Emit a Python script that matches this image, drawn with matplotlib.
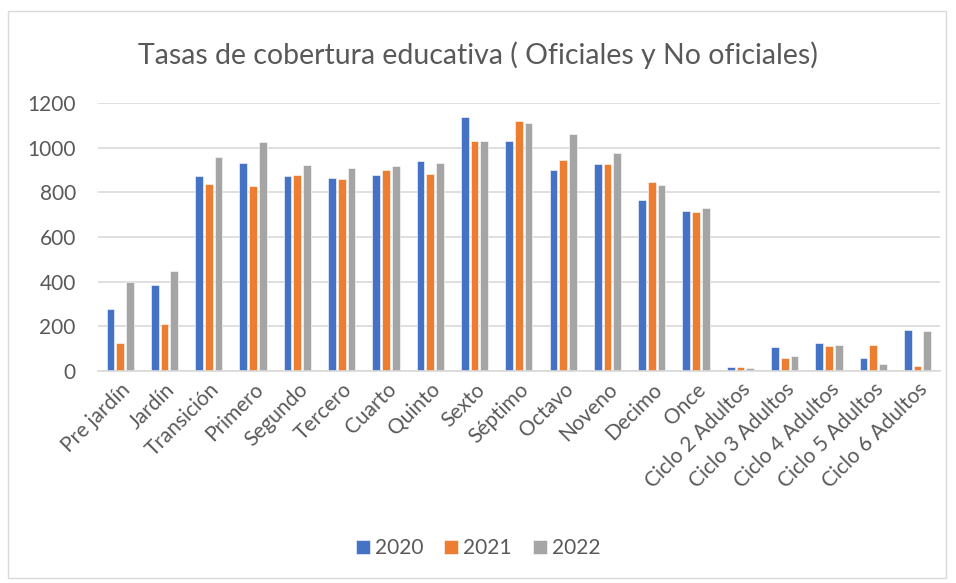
import numpy as np
import matplotlib
matplotlib.use('Agg')
import matplotlib.pyplot as plt
from matplotlib.patches import Rectangle

# datos
grados = ['Pre jardín', 'Jardín', 'Transición', 'Primero', 'Segundo', 'Tercero',
          'Cuarto', 'Quinto', 'Sexto', 'Séptimo', 'Octavo', 'Noveno', 'Decimo',
          'Once', 'Ciclo 2 Adultos', 'Ciclo 3 Adultos', 'Ciclo 4 Adultos',
          'Ciclo 5 Adultos', 'Ciclo 6 Adultos']
v2020 = [279, 384, 872, 932, 872, 866, 876, 942, 1136, 1032, 902, 926, 767,
         716, 18, 108, 126, 58, 184]
v2021 = [127, 211, 836, 830, 879, 858, 900, 881, 1029, 1118, 945, 926, 848,
         712, 18, 60, 111, 117, 22]
v2022 = [400, 449, 959, 1025, 924, 908, 917, 930, 1031, 1112, 1061, 978, 834,
         730, 13, 69, 117, 33, 181]
anios = ['2020', '2021', '2022']
colores = ['#4472C4', '#ED7D31', '#A5A5A5']

plt.rcParams['font.family'] = ['Lato', 'DejaVu Sans']

fig = plt.figure(figsize=(9.56, 5.83), dpi=100)
ax = fig.add_axes([0.1025, 0.3636, 0.8805, 0.4597])

x = np.arange(len(grados))
ancho = 0.175
paso = 0.22
for i, (serie, c, a) in enumerate(zip([v2020, v2021, v2022], colores, anios)):
    ax.bar(x + (i - 1) * paso, serie, width=ancho, color=c, label=a,
           edgecolor='white', linewidth=0.4, zorder=2)

ax.set_xlim(-0.5, len(grados) - 0.5)
ax.set_ylim(0, 1200)
ax.set_yticks(range(0, 1201, 200))
ax.yaxis.grid(True, color='#D9D9D9', linewidth=1.2, zorder=0)
ax.set_axisbelow(True)
for s in ['top', 'right', 'left']:
    ax.spines[s].set_visible(False)
ax.spines['bottom'].set_color('#D9D9D9')
ax.spines['bottom'].set_linewidth(1.2)
ax.tick_params(axis='both', length=0, labelsize=15, colors='#595959')
ax.tick_params(axis='y', pad=16)
ax.tick_params(axis='x', pad=6)
ax.set_xticks(x)
ax.set_xticklabels(grados, rotation=45, ha='right', rotation_mode='anchor')

fig.text(0.5, 0.905, 'Tasas de cobertura educativa ( Oficiales y No oficiales)',
         fontsize=20.5, color='#595959', ha='center', va='center')

ax.legend(loc='center', bbox_to_anchor=(0.5, 0.06), bbox_transform=fig.transFigure,
          ncol=3, frameon=False, fontsize=15, handlelength=0.67, handleheight=0.67,
          columnspacing=1.0, handletextpad=0.25, labelcolor='#595959')

# borde del grafico
fig.patches.append(Rectangle((8 / 956, 5 / 583), 938 / 956, 567 / 583,
                             transform=fig.transFigure, fill=False,
                             edgecolor='#D9D9D9', linewidth=1))

fig.savefig('out.png', dpi=100)
